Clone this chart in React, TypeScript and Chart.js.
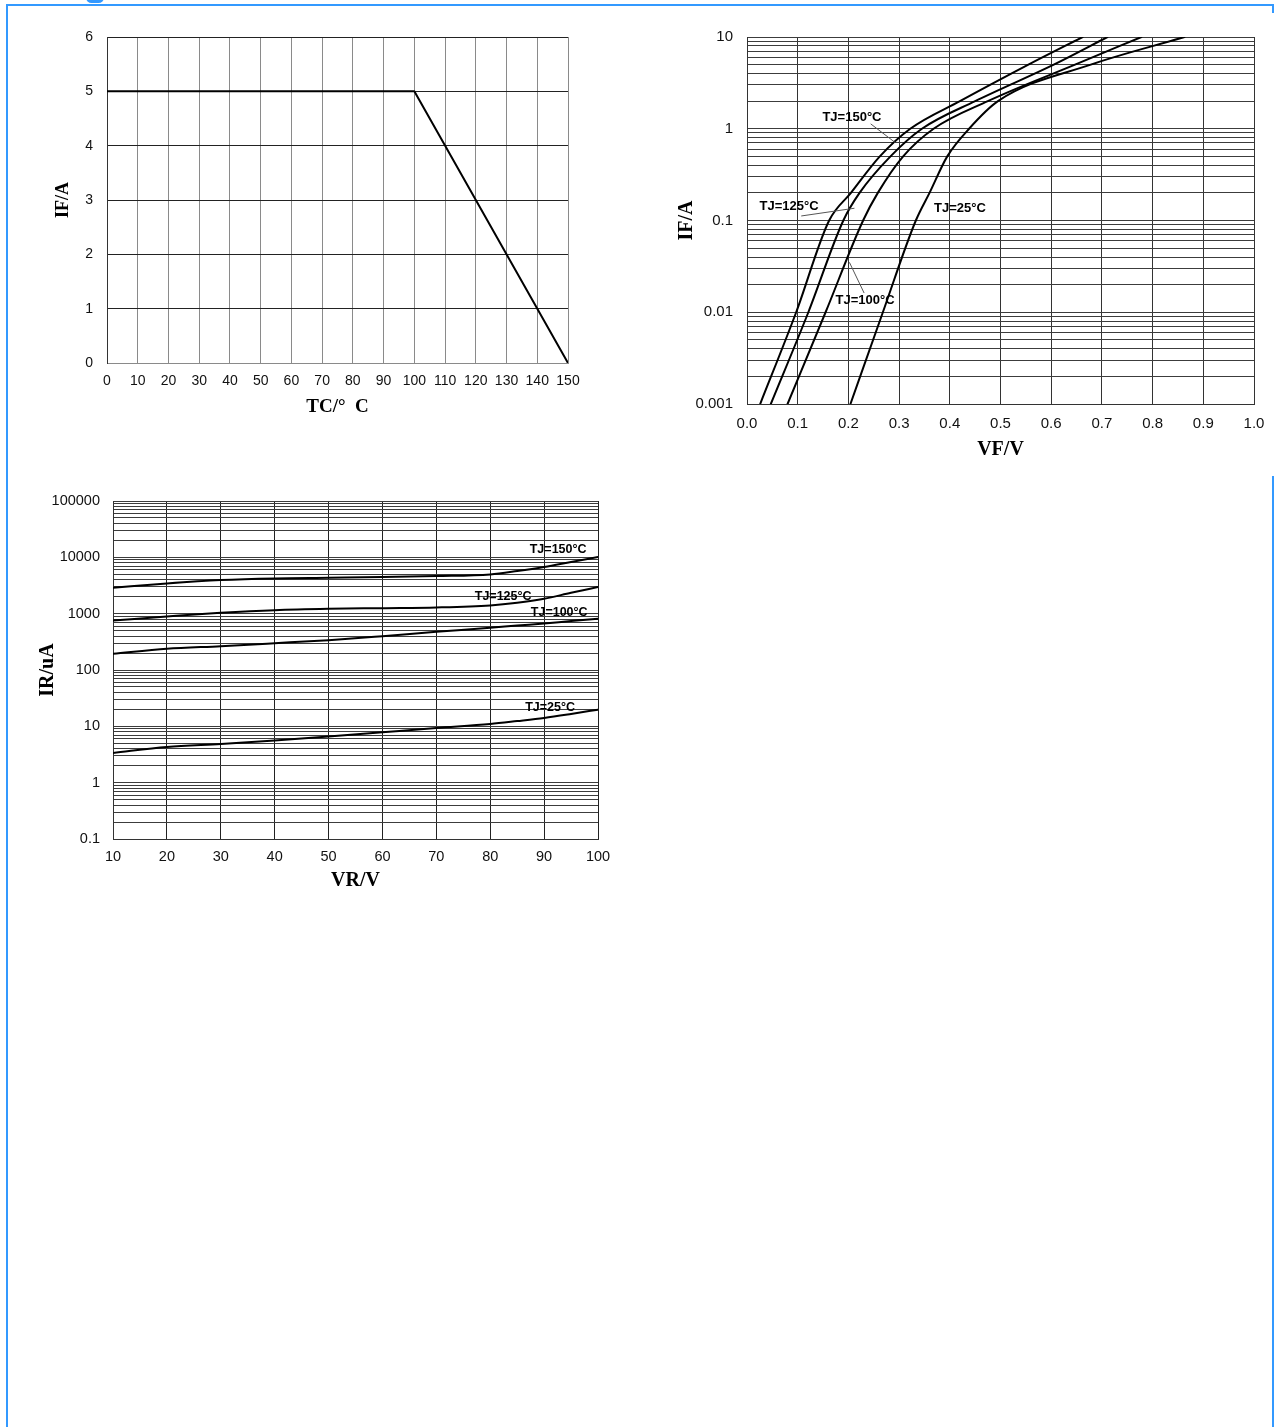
import React, { useEffect, useRef } from 'react';
import { Chart, registerables } from 'chart.js';

Chart.register(...registerables);

// ---------- Chart 1: current derating (IF vs TC) ----------
const TC_POINTS = [0, 100, 150];
const IF_DERATING = [5, 5, 0];

// ---------- Chart 2: forward characteristics (IF vs VF) ----------
const IF_LEVELS = [0.001, 0.01, 0.1, 0.2, 0.5, 1, 2, 5, 10];
const VF_TJ150 = [0.026, 0.097, 0.162, 0.205, 0.262, 0.322, 0.42, 0.555, 0.662];
const VF_TJ125 = [0.047, 0.121, 0.19, 0.222, 0.283, 0.345, 0.45, 0.605, 0.711];
const VF_TJ100 = [0.08, 0.155, 0.229, 0.258, 0.308, 0.368, 0.475, 0.647, 0.778];
const VF_TJ25 = [0.204, 0.268, 0.333, 0.36, 0.395, 0.438, 0.495, 0.678, 0.863];
const VF_DECADES = [0.001, 0.01, 0.1, 1, 10];
const VF_DECADE_LABELS = ['0.001', '0.01', '0.1', '1', '10'];
const VF_LABEL_TEXT = ['TJ=150°C', 'TJ=125°C', 'TJ=25°C', 'TJ=100°C'];
const VF_LABEL_V = [0.207, 0.083, 0.42, 0.233];
const VF_LABEL_I = [1.34, 0.144, 0.134, 0.0133];
const VF_LEADER_V1 = [0.244, 0.107, 0.231];
const VF_LEADER_I1 = [1.13, 0.112, 0.0162];
const VF_LEADER_V2 = [0.292, 0.212, 0.202];
const VF_LEADER_I2 = [0.71, 0.136, 0.035];

// ---------- Chart 3: reverse characteristics (IR vs VR) ----------
const VR_POINTS = [10, 20, 30, 40, 50, 60, 70, 80, 85, 90, 95, 100];
const IR_TJ150 = [2880, 3440, 3950, 4230, 4340, 4460, 4650, 4980, 5700, 6710, 8240, 10100];
const IR_TJ125 = [757, 891, 1035, 1155, 1221, 1254, 1289, 1400, 1560, 1837, 2350, 2965];
const IR_TJ100 = [194, 238, 265, 299, 339, 399, 476, 561, 615, 670, 740, 811];
const IR_TJ25 = [3.37, 4.31, 4.87, 5.58, 6.57, 7.85, 9.37, 11.0, 12.4, 14.1, 16.6, 19.8];
const IR_DECADES = [0.1, 1, 10, 100, 1000, 10000, 100000];
const IR_DECADE_LABELS = ['0.1', '1', '10', '100', '1000', '10000', '100000'];
const IR_LABEL_TEXT = ['TJ=150°C', 'TJ=125°C', 'TJ=100°C', 'TJ=25°C'];
const IR_LABEL_V = [92.6, 82.4, 92.8, 91.1];
const IR_LABEL_I = [13500, 2050, 1067, 21.9];

const MULTIPLIERS = [1, 2, 3, 4, 5, 6, 7, 8, 9];

const SANS = '"Liberation Sans", Arial, sans-serif';
const SERIF = '"Liberation Serif", "Times New Roman", serif';
const BLUE = '#3399ff';

function logGrid(decades: number[]) {
  const vals: number[] = [];
  for (let i = 0; i < decades.length - 1; i++) {
    for (const m of MULTIPLIERS) vals.push(Number((decades[i] * m).toPrecision(6)));
  }
  vals.push(decades[decades.length - 1]);
  return vals;
}

function decadeLabel(v: number, decades: number[], labels: string[]) {
  for (let i = 0; i < decades.length; i++) {
    if (Math.abs(Math.log10(v) - Math.log10(decades[i])) < 1e-6) return labels[i];
  }
  return '';
}

function textPlugin(id: string, texts: string[], xs: number[], ys: number[], font: string, leaders?: { x1: number[]; y1: number[]; x2: number[]; y2: number[] }) {
  return {
    id,
    afterDatasetsDraw(chart: any) {
      const { ctx } = chart;
      const sx = chart.scales.x;
      const sy = chart.scales.y;
      ctx.save();
      if (leaders) {
        ctx.strokeStyle = '#555';
        ctx.lineWidth = 1;
        for (let i = 0; i < leaders.x1.length; i++) {
          ctx.beginPath();
          ctx.moveTo(sx.getPixelForValue(leaders.x1[i]), sy.getPixelForValue(leaders.y1[i]));
          ctx.lineTo(sx.getPixelForValue(leaders.x2[i]), sy.getPixelForValue(leaders.y2[i]));
          ctx.stroke();
        }
      }
      ctx.font = font;
      ctx.fillStyle = '#000';
      ctx.textAlign = 'center';
      ctx.textBaseline = 'middle';
      for (let i = 0; i < texts.length; i++) {
        ctx.fillText(texts[i], sx.getPixelForValue(xs[i]), sy.getPixelForValue(ys[i]));
      }
      ctx.restore();
    },
  };
}

function curve(xs: number[], ys: number[], label: string, smooth = true) {
  return {
    label,
    data: xs.map((x, i) => ({ x, y: ys[i] })),
    borderColor: '#000',
    borderWidth: 2,
    pointRadius: 0,
    fill: false,
    tension: 0,
    cubicInterpolationMode: smooth ? 'monotone' : 'default',
  };
}

function fitY(width: number) {
  return (s: any) => {
    s.width = width;
    s.paddingTop = 0;
    s.paddingBottom = 0;
  };
}

function fitX(height: number) {
  return (s: any) => {
    s.height = height;
    s.paddingLeft = 0;
    s.paddingRight = 0;
  };
}

function ChartBox({ left, top, width, height, build }: any) {
  const ref = useRef<HTMLCanvasElement | null>(null);
  useEffect(() => {
    if (!ref.current) return;
    const chart = new Chart(ref.current, build());
    return () => chart.destroy();
  }, []);
  return (
    <div style={{ position: 'absolute', left, top, width, height }}>
      <canvas ref={ref} width={width} height={height} style={{ width, height, display: 'block' }} />
    </div>
  );
}

const commonOptions = {
  responsive: false,
  maintainAspectRatio: false,
  animation: false,
  devicePixelRatio: 1,
  plugins: { legend: { display: false }, tooltip: { enabled: false } },
  elements: { line: { borderCapStyle: 'round', borderJoinStyle: 'round' } },
};

function buildDerating() {
  return {
    type: 'line',
    data: { datasets: [curve(TC_POINTS, IF_DERATING, 'IF', false)] },
    options: {
      ...commonOptions,
      layout: { padding: { top: 17, right: 22, left: 0, bottom: 0 } },
      scales: {
        x: {
          type: 'linear', min: 0, max: 150,
          ticks: { stepSize: 10, padding: 10, color: '#111', font: { family: SANS, size: 14 }, maxRotation: 0, autoSkip: false },
          grid: { color: '#8a8a8a', lineWidth: 1, drawTicks: false },
          border: { color: '#8a8a8a' },
          title: { display: true, text: 'TC/°  C', color: '#000', font: { family: SERIF, size: 19, weight: 'bold' }, padding: { top: 0, bottom: 2 } },
          afterFit: fitX(57),
        },
        y: {
          type: 'linear', min: 0, max: 6,
          ticks: { stepSize: 1, padding: 14, color: '#111', font: { family: SANS, size: 14 } },
          grid: { color: '#222', lineWidth: 1, drawTicks: false },
          border: { color: '#333' },
          title: { display: true, text: 'IF/A', color: '#000', font: { family: SERIF, size: 18, weight: 'bold' }, padding: { top: 23, bottom: 0 } },
          afterFit: fitY(77),
        },
      },
    },
  };
}

function buildForward() {
  const grid = logGrid(VF_DECADES);
  return {
    type: 'line',
    data: {
      datasets: [
        curve(VF_TJ150, IF_LEVELS, 'TJ=150°C'),
        curve(VF_TJ125, IF_LEVELS, 'TJ=125°C'),
        curve(VF_TJ100, IF_LEVELS, 'TJ=100°C'),
        curve(VF_TJ25, IF_LEVELS, 'TJ=25°C'),
      ],
    },
    options: {
      ...commonOptions,
      layout: { padding: { top: 17, right: 20, left: 0, bottom: 0 } },
      scales: {
        x: {
          type: 'linear', min: 0, max: 1,
          ticks: { stepSize: 0.1, padding: 11, color: '#111', font: { family: SANS, size: 15 }, maxRotation: 0, autoSkip: false, callback: (v: any) => Number(v).toFixed(1) },
          grid: { color: '#333', lineWidth: 1, drawTicks: false },
          border: { color: '#333' },
          title: { display: true, text: 'VF/V', color: '#000', font: { family: SERIF, size: 20, weight: 'bold' }, padding: { top: 0, bottom: 8 } },
          afterFit: fitX(66),
        },
        y: {
          type: 'logarithmic', min: 0.001, max: 10,
          afterBuildTicks: (s: any) => { s.ticks = grid.map((v) => ({ value: v })); },
          ticks: { autoSkip: false, padding: 14, color: '#111', font: { family: SANS, size: 15 }, callback: (v: any) => decadeLabel(Number(v), VF_DECADES, VF_DECADE_LABELS) },
          grid: { color: '#3c3c3c', lineWidth: 1, drawTicks: false },
          border: { color: '#333' },
          title: { display: true, text: 'IF/A', color: '#000', font: { family: SERIF, size: 20, weight: 'bold' }, padding: { top: 15, bottom: 0 } },
          afterFit: fitY(87),
        },
      },
    },
    plugins: [
      textPlugin('vfLabels', VF_LABEL_TEXT, VF_LABEL_V, VF_LABEL_I, `bold 13px ${SANS}`, { x1: VF_LEADER_V1, y1: VF_LEADER_I1, x2: VF_LEADER_V2, y2: VF_LEADER_I2 }),
    ],
  };
}

function buildReverse() {
  const grid = logGrid(IR_DECADES);
  return {
    type: 'line',
    data: {
      datasets: [
        curve(VR_POINTS, IR_TJ150, 'TJ=150°C'),
        curve(VR_POINTS, IR_TJ125, 'TJ=125°C'),
        curve(VR_POINTS, IR_TJ100, 'TJ=100°C'),
        curve(VR_POINTS, IR_TJ25, 'TJ=25°C'),
      ],
    },
    options: {
      ...commonOptions,
      layout: { padding: { top: 21, right: 32, left: 0, bottom: 0 } },
      scales: {
        x: {
          type: 'linear', min: 10, max: 100,
          ticks: { stepSize: 10, padding: 9, color: '#111', font: { family: SANS, size: 14.5 }, maxRotation: 0, autoSkip: false },
          grid: { color: '#222', lineWidth: 1, drawTicks: false },
          border: { color: '#333' },
          title: { display: true, text: 'VR/V', color: '#000', font: { family: SERIF, size: 20, weight: 'bold' }, padding: { top: 0, bottom: 7 } },
          afterFit: fitX(61),
        },
        y: {
          type: 'logarithmic', min: 0.1, max: 100000,
          afterBuildTicks: (s: any) => { s.ticks = grid.map((v) => ({ value: v })); },
          ticks: { autoSkip: false, padding: 13, color: '#111', font: { family: SANS, size: 14.5 }, callback: (v: any) => decadeLabel(Number(v), IR_DECADES, IR_DECADE_LABELS) },
          grid: { color: '#3c3c3c', lineWidth: 1, drawTicks: false },
          border: { color: '#333' },
          title: { display: true, text: 'IR/uA', color: '#000', font: { family: SERIF, size: 20, weight: 'bold' }, padding: { top: 6, bottom: 0 } },
          afterFit: fitY(83),
        },
      },
    },
    plugins: [textPlugin('irLabels', IR_LABEL_TEXT, IR_LABEL_V, IR_LABEL_I, `bold 12.5px ${SANS}`)],
  };
}

export default function App() {
  return (
    <div style={{ position: 'absolute', left: 0, top: 0, width: 1274, height: 1427, background: '#fff', overflow: 'hidden' }}>
      {/* page frame */}
      <div style={{ position: 'absolute', left: 6, top: 4, width: 1268, height: 2, background: BLUE }} />
      <div style={{ position: 'absolute', left: 6, top: 4, width: 2, height: 1423, background: BLUE }} />
      <div style={{ position: 'absolute', left: 1272, top: 4, width: 2, height: 9, background: BLUE }} />
      <div style={{ position: 'absolute', left: 1272, top: 476, width: 2, height: 951, background: BLUE }} />
      <div style={{ position: 'absolute', left: 86, top: -8, width: 18, height: 11, borderRadius: 9, background: BLUE }} />
      <ChartBox left={30} top={20} width={560} height={400} build={buildDerating} />
      <ChartBox left={660} top={20} width={614} height={450} build={buildForward} />
      <ChartBox left={30} top={480} width={600} height={420} build={buildReverse} />
    </div>
  );
}
